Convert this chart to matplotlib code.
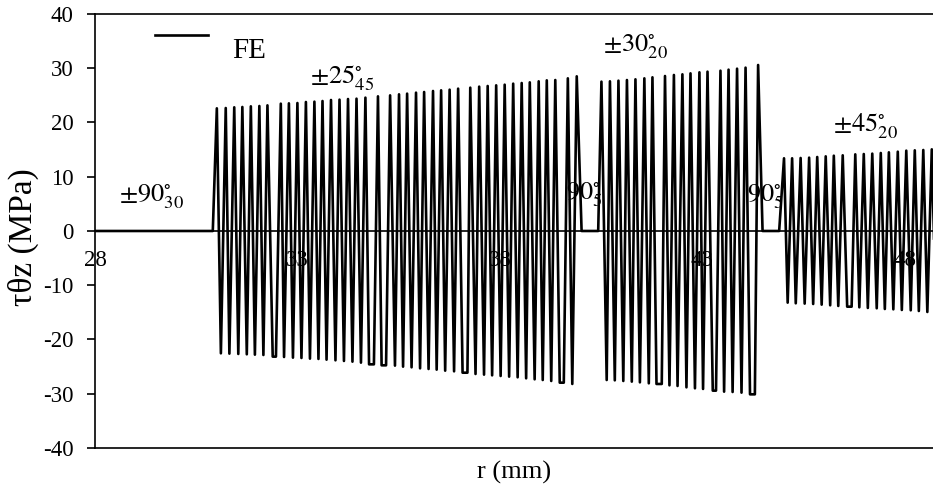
import matplotlib
matplotlib.use("Agg")
import matplotlib.pyplot as plt

plt.rcParams['font.family'] = ['Liberation Serif', 'DejaVu Serif']
plt.rcParams['mathtext.fontset'] = 'stix'
plt.rcParams['axes.unicode_minus'] = False

# shear stress tau_theta_z (MPa) along the radius r (mm), FE result
# +/-25 layers
r_pm25 = [31.01, 31.11, 31.23, 31.32, 31.44, 31.54, 31.64, 31.75, 31.85, 31.95,
          32.06, 32.16, 32.26, 32.39, 32.47, 32.59, 32.67, 32.79, 32.89, 33.00,
          33.10, 33.21, 33.31, 33.42, 33.52, 33.62, 33.72, 33.83, 33.94, 34.04,
          34.15, 34.25, 34.36, 34.46, 34.57, 34.68, 34.77, 34.89, 34.99, 35.08,
          35.19, 35.29, 35.41, 35.51, 35.61, 35.71, 35.82, 35.93, 36.03, 36.13,
          36.24, 36.35, 36.44, 36.55, 36.65, 36.76, 36.87, 36.97, 37.08, 37.20,
          37.27, 37.40, 37.49, 37.61, 37.70, 37.81, 37.91, 38.02, 38.12, 38.23,
          38.33, 38.44, 38.54, 38.65, 38.74, 38.86, 38.96, 39.06, 39.16, 39.27,
          39.37, 39.48, 39.58, 39.68, 39.79, 39.90]
tau_pm25 = [22.61, -22.55, 22.67, -22.61, 22.80, -22.67, 22.86, -22.73, 22.98, -22.80,
            23.04, -22.86, 23.16, -23.16, -23.16, 23.47, -23.23, 23.53, -23.35, 23.59,
            -23.41, 23.78, -23.53, 23.84, -23.59, 23.96, -23.72, 24.15, -23.84, 24.21,
            -23.96, 24.33, -24.09, 24.39, -24.27, 24.58, -24.58, -24.58, 24.82, -24.76,
            -24.76, 25.00, -24.82, 25.19, -25.01, 25.32, -25.13, 25.50, -25.32, 25.62,
            -25.44, 25.81, -25.56, 25.93, -25.75, 26.05, -25.87, 26.24, -26.12, -26.12,
            26.42, -26.36, 26.61, -26.48, 26.73, -26.61, 26.85, -26.73, 26.97, -26.85,
            27.16, -26.97, 27.28, -27.16, 27.40, -27.34, 27.59, -27.47, 27.77, -27.65,
            27.83, -27.96, -27.96, 28.14, -28.20, 28.51]

# +/-30 layers
r_pm30 = [40.51, 40.64, 40.72, 40.84, 40.93, 41.05, 41.14, 41.26, 41.35, 41.46,
          41.57, 41.68, 41.77, 41.87, 42.00, 42.08, 42.19, 42.30, 42.39, 42.51,
          42.61, 42.71, 42.82, 42.93, 43.02, 43.13, 43.26, 43.34, 43.45, 43.54,
          43.65, 43.75, 43.86, 43.97, 44.07, 44.18, 44.30, 44.38]
tau_pm30 = [27.53, -27.47, 27.59, -27.53, 27.71, -27.65, 27.83, -27.77, 27.96, -27.90,
            28.14, -28.08, 28.33, -28.20, -28.20, 28.57, -28.45, 28.76, -28.57, 28.88,
            -28.82, 29.06, -29.00, 29.25, -29.12, 29.37, -29.43, -29.43, 29.55, -29.62,
            29.74, -29.68, 29.92, -29.80, 30.11, -30.11, -30.11, 30.60]

# +/-45 layers
r_pm45 = [45.02, 45.11, 45.22, 45.31, 45.43, 45.53, 45.64, 45.74, 45.84, 45.95,
          46.05, 46.16, 46.25, 46.36, 46.47, 46.58, 46.69, 46.78, 46.88, 46.99,
          47.09, 47.20, 47.31, 47.41, 47.51, 47.61, 47.72, 47.83, 47.93, 48.04,
          48.15, 48.25, 48.35, 48.46, 48.56, 48.67, 48.77, 48.88]
tau_pm45 = [13.40, -13.21, 13.40, -13.33, 13.46, -13.39, 13.52, -13.46, 13.64, -13.58,
            13.76, -13.70, 13.88, -13.82, 13.95, -13.95, -13.95, 14.13, -14.07, 14.19,
            -14.19, 14.26, -14.25, 14.38, -14.38, 14.50, -14.44, 14.62, -14.56, 14.81,
            -14.62, 14.87, -14.75, 14.93, -14.93, 15.05, -15.00, 15.15]

# 90 deg layers carry no shear
r_90a = [28.0, 30.91]
r_90b = [40.02, 40.43]
r_90c = [44.49, 44.90]

x_ticks = [28, 33, 38, 43, 48]
y_ticks = [-40, -30, -20, -10, 0, 10, 20, 30, 40]

# layup labels: (r, tau, text)
etiquetas = [(29.39, 6.3, r'$\pm90^{\circ}_{30}$'),
             (34.10, 28.2, r'$\pm25^{\circ}_{45}$'),
             (41.36, 33.9, r'$\pm30^{\circ}_{20}$'),
             (47.02, 19.2, r'$\pm45^{\circ}_{20}$'),
             (40.10, 6.6, r'$90^{\circ}_{5}$'),
             (44.57, 6.3, r'$90^{\circ}_{5}$')]

r = r_90a + r_pm25 + r_90b + r_pm30 + r_90c + r_pm45
tau = [0, 0] + tau_pm25 + [0, 0] + tau_pm30 + [0, 0] + tau_pm45

fig = plt.figure(figsize=(9.33, 4.84), dpi=100)
ax = fig.add_axes([0.1018, 0.0744, 0.8982, 0.8967])

ax.plot(r, tau, color='black', lw=1.9, label='FE', zorder=2)

for xe, ye, txt in etiquetas:
    ax.text(xe, ye, txt, fontsize=19, ha='center', va='center', zorder=1)

ax.set_xlim(28, 48.70)
ax.set_ylim(-40, 40)
ax.set_xticks(x_ticks)
ax.set_yticks(y_ticks)

ax.spines['right'].set_visible(False)
ax.spines['bottom'].set_position(('data', 0))
for s in ['left', 'top', 'bottom']:
    ax.spines[s].set_linewidth(1.2)
# frame line at the bottom
ax.axhline(-40, color='black', lw=1.2, clip_on=False)

ax.tick_params(axis='x', length=0, pad=14, labelsize=16.5)
ax.tick_params(axis='y', direction='out', length=5.5, width=1.2, pad=10, labelsize=16.5)

ax.set_xlabel('r (mm)', fontsize=19)
ax.xaxis.set_label_coords(0.5, -0.03)
ax.set_ylabel('τθz (MPa)', fontsize=24)
ax.yaxis.set_label_coords(-0.067, 0.485)

ax.legend(loc='upper left', bbox_to_anchor=(0.072, 1.005), frameon=False,
          fontsize=21, handlelength=1.8, handletextpad=0.85, handleheight=3.7,
          borderpad=0, borderaxespad=0)

fig.savefig('out.png', dpi=100)
